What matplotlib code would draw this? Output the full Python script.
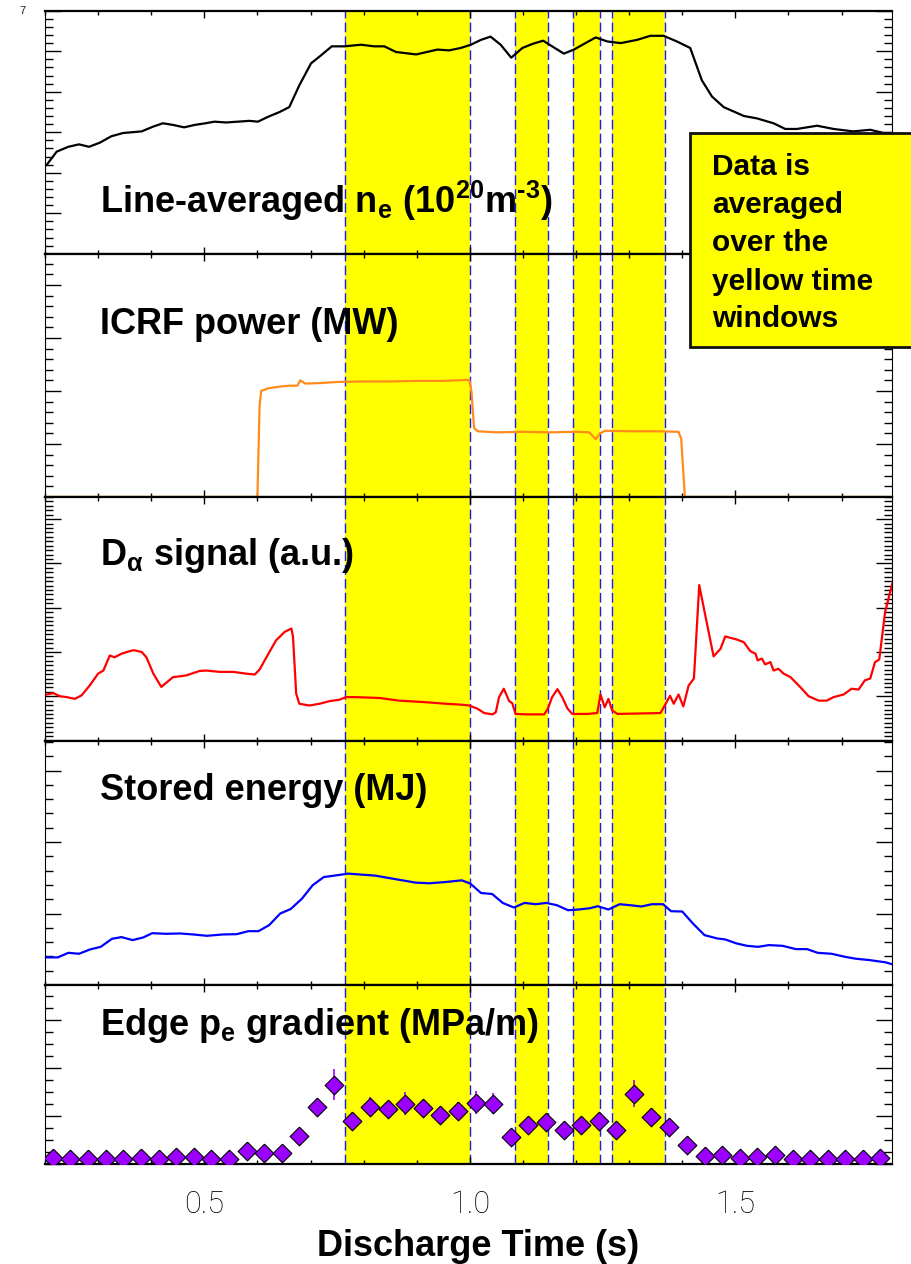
import matplotlib
matplotlib.use("Agg")
import matplotlib.pyplot as plt
from matplotlib.patches import Rectangle
from matplotlib.ticker import MultipleLocator

plt.rcParams['font.family'] = ['Liberation Sans', 'DejaVu Sans']
plt.rcParams['mathtext.fontset'] = 'custom'
plt.rcParams['mathtext.rm'] = 'Liberation Sans:bold'
plt.rcParams['mathtext.bf'] = 'Liberation Sans:bold'
plt.rcParams['mathtext.it'] = 'Liberation Sans:bold'

# ---------------- data ----------------
windows = [(0.765, 1.000), (1.085, 1.148), (1.194, 1.246), (1.268, 1.367)]

ne_t = [0.203, 0.222, 0.244, 0.264, 0.283, 0.303, 0.325, 0.347, 0.382, 0.404,
        0.422, 0.441, 0.462, 0.482, 0.502, 0.519, 0.541, 0.563, 0.585, 0.601,
        0.620, 0.642, 0.660, 0.679, 0.701, 0.720, 0.740, 0.764, 0.795, 0.820,
        0.839, 0.861, 0.899, 0.939, 0.961, 0.983, 1.002, 1.021, 1.039, 1.058,
        1.078, 1.099, 1.118, 1.138, 1.155, 1.177, 1.196, 1.215, 1.237, 1.259,
        1.284, 1.315, 1.340, 1.365, 1.390, 1.415, 1.437, 1.456, 1.478, 1.516,
        1.541, 1.572, 1.594, 1.616, 1.654, 1.685, 1.722, 1.754, 1.779, 1.800]
ne_v = [1.095, 1.26, 1.32, 1.35, 1.32, 1.37, 1.45, 1.49, 1.51, 1.57,
        1.61, 1.59, 1.56, 1.59, 1.61, 1.63, 1.62, 1.63, 1.64, 1.63,
        1.69, 1.75, 1.81, 2.08, 2.35, 2.45, 2.56, 2.56, 2.58, 2.56,
        2.56, 2.49, 2.46, 2.52, 2.51, 2.54, 2.58, 2.64, 2.68, 2.58,
        2.42, 2.54, 2.59, 2.63, 2.56, 2.47, 2.52, 2.59, 2.67, 2.62,
        2.60, 2.64, 2.69, 2.69, 2.62, 2.54, 2.14, 1.94, 1.81, 1.70,
        1.67, 1.61, 1.54, 1.54, 1.58, 1.54, 1.51, 1.53, 1.49, 1.49]

icrf_t = [0.200, 0.600, 0.604, 0.607, 0.620, 0.640, 0.660, 0.675, 0.681, 0.690,
          0.720, 0.750, 0.800, 0.850, 0.900, 0.950, 0.999, 1.003, 1.008, 1.015,
          1.050, 1.100, 1.150, 1.200, 1.225, 1.237, 1.245, 1.255, 1.300, 1.350,
          1.393, 1.398, 1.405, 1.800]
icrf_v = [0.0, 0.0, 1.70, 2.00, 2.05, 2.08, 2.10, 2.10, 2.20, 2.14,
          2.15, 2.17, 2.18, 2.18, 2.19, 2.19, 2.21, 2.00, 1.30, 1.24,
          1.22, 1.23, 1.22, 1.23, 1.22, 1.09, 1.20, 1.25, 1.24, 1.24,
          1.23, 1.10, 0.0, 0.0]

da_t = [0.203, 0.216, 0.228, 0.241, 0.256, 0.269, 0.284, 0.300, 0.310, 0.322,
        0.331, 0.344, 0.357, 0.367, 0.382, 0.391, 0.404, 0.419, 0.441, 0.466,
        0.491, 0.504, 0.529, 0.554, 0.579, 0.595, 0.604, 0.617, 0.635, 0.651,
        0.664, 0.667, 0.673, 0.679, 0.698, 0.717, 0.736, 0.754, 0.767, 0.786,
        0.830, 0.867, 0.911, 0.955, 0.983, 0.999, 1.014, 1.027, 1.043, 1.049,
        1.055, 1.064, 1.074, 1.080, 1.086, 1.108, 1.140, 1.147, 1.155, 1.165,
        1.174, 1.184, 1.193, 1.221, 1.240, 1.246, 1.254, 1.261, 1.268, 1.278,
        1.359, 1.367, 1.377, 1.384, 1.393, 1.402, 1.412, 1.422, 1.432, 1.444,
        1.459, 1.472, 1.481, 1.503, 1.516, 1.528, 1.538, 1.542, 1.550, 1.556,
        1.566, 1.572, 1.581, 1.591, 1.604, 1.622, 1.638, 1.657, 1.672, 1.685,
        1.704, 1.719, 1.732, 1.744, 1.754, 1.763, 1.771, 1.782, 1.800]
da_v = [1.04, 1.07, 1.00, 0.98, 0.94, 1.02, 1.24, 1.51, 1.58, 1.92,
        1.88, 1.96, 2.01, 2.04, 2.00, 1.88, 1.51, 1.21, 1.43, 1.47,
        1.57, 1.58, 1.55, 1.55, 1.51, 1.49, 1.60, 1.88, 2.26, 2.45,
        2.53, 2.34, 1.06, 0.83, 0.79, 0.83, 0.89, 0.92, 0.98, 0.98,
        0.96, 0.90, 0.87, 0.83, 0.81, 0.79, 0.72, 0.62, 0.59, 0.64,
        0.98, 1.17, 0.89, 0.84, 0.60, 0.59, 0.59, 0.72, 0.98, 1.16,
        0.98, 0.72, 0.60, 0.60, 0.62, 1.04, 0.75, 0.94, 0.68, 0.60,
        0.62, 0.79, 1.01, 0.83, 1.04, 0.77, 1.24, 1.40, 3.51, 2.79,
        1.90, 2.07, 2.35, 2.28, 2.22, 2.02, 1.96, 1.81, 1.85, 1.72,
        1.77, 1.58, 1.62, 1.51, 1.43, 1.21, 1.00, 0.90, 0.90, 0.98,
        1.04, 1.17, 1.15, 1.36, 1.40, 1.77, 1.83, 2.90, 3.75]

w_t = [0.203, 0.224, 0.244, 0.264, 0.285, 0.305, 0.326, 0.344, 0.365, 0.385,
       0.402, 0.428, 0.454, 0.479, 0.505, 0.535, 0.561, 0.583, 0.602, 0.622,
       0.643, 0.663, 0.684, 0.704, 0.725, 0.745, 0.771, 0.796, 0.822, 0.847,
       0.873, 0.898, 0.924, 0.955, 0.985, 1.001, 1.021, 1.042, 1.062, 1.083,
       1.103, 1.124, 1.144, 1.164, 1.185, 1.205, 1.226, 1.241, 1.261, 1.282,
       1.302, 1.323, 1.343, 1.364, 1.379, 1.400, 1.420, 1.442, 1.466, 1.481,
       1.502, 1.522, 1.543, 1.563, 1.589, 1.614, 1.635, 1.655, 1.681, 1.706,
       1.727, 1.752, 1.783, 1.800]
w_v = [0.0386, 0.0386, 0.0450, 0.0437, 0.0498, 0.0534, 0.0646, 0.0670, 0.0628, 0.0665,
       0.0725, 0.0716, 0.0721, 0.0707, 0.0688, 0.0707, 0.0711, 0.0753, 0.0753, 0.0837,
       0.1000, 0.1064, 0.1209, 0.1395, 0.1510, 0.1530, 0.1558, 0.1544, 0.1530, 0.1497,
       0.1464, 0.1432, 0.1423, 0.1441, 0.1464, 0.1418, 0.1287, 0.1273, 0.1148, 0.1084,
       0.1148, 0.1130, 0.1148, 0.1116, 0.1046, 0.1056, 0.1074, 0.1102, 0.1056, 0.1130,
       0.1116, 0.1098, 0.1130, 0.1130, 0.1032, 0.1028, 0.0861, 0.0697, 0.0651, 0.0637,
       0.0582, 0.0548, 0.0534, 0.0558, 0.0548, 0.0502, 0.0502, 0.0450, 0.0437, 0.0395,
       0.0367, 0.0349, 0.0317, 0.0279]

pe_t = [0.215, 0.248, 0.281, 0.314, 0.347, 0.381, 0.414, 0.447, 0.480, 0.513,
        0.546, 0.580, 0.613, 0.646, 0.679, 0.712, 0.745, 0.779, 0.812, 0.845,
        0.878, 0.911, 0.944, 0.978, 1.011, 1.044, 1.077, 1.110, 1.143, 1.177,
        1.210, 1.243, 1.276, 1.309, 1.342, 1.375, 1.409, 1.442, 1.475, 1.508,
        1.541, 1.574, 1.608, 1.641, 1.674, 1.707, 1.740, 1.773]
pe_v = [0.13, 0.11, 0.11, 0.11, 0.11, 0.13, 0.11, 0.14, 0.14, 0.11,
        0.11, 0.27, 0.23, 0.23, 0.59, 1.20, 1.66, 0.89, 1.20, 1.14,
        1.26, 1.16, 1.03, 1.11, 1.28, 1.26, 0.57, 0.82, 0.87, 0.70,
        0.82, 0.90, 0.70, 1.47, 0.98, 0.78, 0.40, 0.17, 0.19, 0.13,
        0.15, 0.19, 0.11, 0.11, 0.11, 0.11, 0.11, 0.13]
pe_err = [0.04, 0.04, 0.04, 0.04, 0.04, 0.04, 0.04, 0.04, 0.04, 0.04,
          0.04, 0.06, 0.06, 0.06, 0.12, 0.18, 0.32, 0.15, 0.20, 0.18,
          0.24, 0.18, 0.15, 0.18, 0.24, 0.22, 0.12, 0.16, 0.16, 0.14,
          0.16, 0.16, 0.14, 0.28, 0.18, 0.16, 0.10, 0.05, 0.05, 0.04,
          0.04, 0.04, 0.04, 0.04, 0.04, 0.04, 0.04, 0.04]

labels = [r"Line-averaged n$_\mathbf{e}$ (10$^\mathbf{20}$m$^\mathbf{‐3}$)",
          "ICRF power (MW)",
          r"D$_\mathbf{\alpha}$ signal (a.u.)",
          "Stored energy (MJ)",
          r"Edge p$_\mathbf{e}$ gradient (MPa/m)"]

# ---------------- layout ----------------
W, H = 911, 1264
fig = plt.figure(figsize=(W / 100, H / 100), dpi=100)

def fx(px):
    return px / W

def fy(py):
    return 1 - py / H

panel_px = [(10.7, 253.7), (253.7, 497.0), (497.0, 740.5), (740.5, 985.0), (985.0, 1164.0)]
ylims = [(0, 3.0), (0, 4.59), (0, 5.5), (0, 0.342), (0, 3.74)]
ymaj = [0.5, 1.0, 1.0, 0.1, 1.0]
ymin = [0.1, 0.2, 0.1, 0.02, 0.25]
label_base = [213, 334, 565, 800, 1035]

axes = []
for i, (top, bot) in enumerate(panel_px):
    ax = fig.add_axes([fx(45), fy(bot), fx(892) - fx(45), (bot - top) / H])
    ax.set_xlim(0.2, 1.795)
    ax.set_ylim(*ylims[i])
    ax.xaxis.set_major_locator(MultipleLocator(0.5))
    ax.xaxis.set_minor_locator(MultipleLocator(0.1))
    ax.yaxis.set_major_locator(MultipleLocator(ymaj[i]))
    ax.yaxis.set_minor_locator(MultipleLocator(ymin[i]))
    ax.tick_params(axis='y', which='major', direction='in', length=11.5, width=1.0,
                   left=True, right=True, labelleft=False)
    ax.tick_params(axis='y', which='minor', direction='in', length=6, width=1.0,
                   left=True, right=True)
    ax.tick_params(axis='x', which='major', direction='in', length=5, width=1.0,
                   top=True, bottom=True, labelbottom=(i == 4))
    ax.tick_params(axis='x', which='minor', direction='in', length=3, width=1.0,
                   top=True, bottom=True)
    for s in ['top', 'bottom']:
        ax.spines[s].set_linewidth(1.6)
    for s in ['left', 'right']:
        ax.spines[s].set_linewidth(0.8)
    for (a, b) in windows:
        ax.axvspan(a, b, color='#ffff00', lw=0, zorder=0)
        for xv in (a, b):
            ax.axvline(xv, color='#1a1aff', lw=1.0, ls=(0, (7, 3)), zorder=1)
    fig.text(fx(100), fy(label_base[i]), labels[i], fontsize=26, fontweight='bold',
             va='baseline', ha='left', color='black')
    axes.append(ax)

axes[0].plot(ne_t, ne_v, color='black', lw=1.6, zorder=3)
axes[1].plot(icrf_t, icrf_v, color='#ff8c1a', lw=1.6, zorder=3)
axes[2].plot(da_t, da_v, color='#ff0000', lw=1.6, zorder=3)
axes[3].plot(w_t, w_v, color='#0000ff', lw=1.6, zorder=3)

diamond = [(0, 1), (1, 0), (0, -1), (-1, 0), (0, 1)]
axes[4].errorbar(pe_t, pe_v, yerr=pe_err, fmt='none', ecolor='#9b00ff', elinewidth=1.2,
                 capsize=0, zorder=3)
axes[4].plot(pe_t, pe_v, ls='none', marker=diamond, markersize=13.5,
             markerfacecolor='#9b00ff', markeredgecolor='black', markeredgewidth=0.8, zorder=4)

ax5 = axes[4]
ax5.set_xticks([0.5, 1.0, 1.5])
ax5.set_xticklabels(['0.5', '1.0', '1.5'])
for lab in ax5.get_xticklabels():
    lab.set_fontfamily(['Roboto', 'DejaVu Sans'])
    lab.set_fontweight('light')
    lab.set_fontsize(22)
ax5.tick_params(axis='x', which='major', pad=19)

fig.text(fx(478), fy(1256), "Discharge Time (s)", fontsize=26, fontweight='bold',
         ha='center', va='baseline')

# stray tick label fragment at top-left
fig.text(fx(22.5), fy(11.3), "7", fontsize=8, ha='center', va='center', color='#222222')

# annotation box
box = Rectangle((fx(690), fy(347)), fx(260), (347 - 133) / H, transform=fig.transFigure,
                facecolor='#ffff00', edgecolor='#111111', lw=2.0, zorder=10, clip_on=False)
fig.add_artist(box)
box_lines = ["Data is", "averaged", "over the", "yellow time", "windows"]
box_base = [175, 213, 251, 290, 327]
for s, b in zip(box_lines, box_base):
    fig.text(fx(712), fy(b), s, fontsize=21.5, fontweight='bold', ha='left',
             va='baseline', zorder=11)

fig.savefig("out.png", dpi=100)
